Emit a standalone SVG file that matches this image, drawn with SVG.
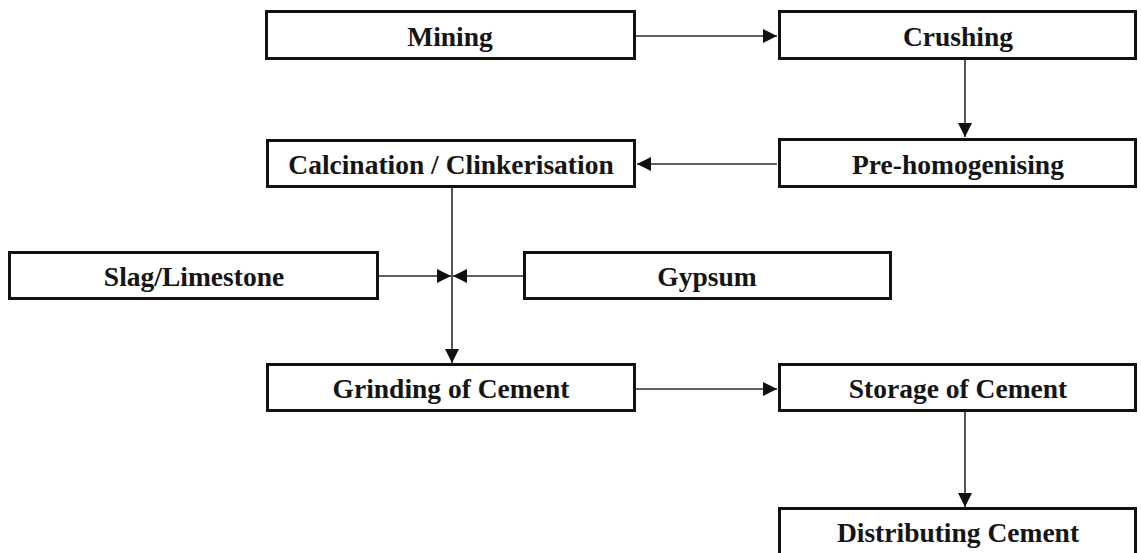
<svg xmlns="http://www.w3.org/2000/svg" width="1141" height="553" viewBox="0 0 1141 553">
<style>
.box{fill:#fff;stroke:#111;stroke-width:3}
.lbl{font-family:"Liberation Serif","Times New Roman",serif;font-weight:bold;font-size:27.5px;fill:#151515;text-anchor:middle}
.con{stroke:#1f3038;stroke-width:1.6;fill:none}
</style>
<defs>
<marker id="ah" viewBox="0 0 14 14" refX="14" refY="7" markerWidth="14" markerHeight="14" markerUnits="userSpaceOnUse" orient="auto">
<path d="M0,0 L14,7 L0,14 Z" fill="#111"/>
</marker>
</defs>
<rect width="1141" height="553" fill="#fff"/>
<g id="connectors">
<line class="con" x1="636" y1="36" x2="777" y2="36" marker-end="url(#ah)"/>
<line class="con" x1="965" y1="60" x2="965" y2="137" marker-end="url(#ah)"/>
<line class="con" x1="777" y1="164" x2="637" y2="164" marker-end="url(#ah)"/>
<line class="con" x1="452" y1="187" x2="452" y2="363" marker-end="url(#ah)"/>
<line class="con" x1="379" y1="276" x2="451" y2="276" marker-end="url(#ah)"/>
<line class="con" x1="523" y1="276" x2="453" y2="276" marker-end="url(#ah)"/>
<line class="con" x1="635" y1="389" x2="777" y2="389" marker-end="url(#ah)"/>
<line class="con" x1="965" y1="412" x2="965" y2="507" marker-end="url(#ah)"/>
</g>
<g id="mining"><rect class="box" x="266.5" y="11.5" width="368" height="47"/><text class="lbl" x="450" y="46">Mining</text></g>
<g id="crushing"><rect class="box" x="779.5" y="11.5" width="356" height="47"/><text class="lbl" x="958" y="46">Crushing</text></g>
<g id="prehomogenising"><rect class="box" x="779.5" y="139.5" width="356" height="47"/><text class="lbl" x="958" y="174">Pre-homogenising</text></g>
<g id="calcination"><rect class="box" x="267.5" y="140.5" width="367" height="46"/><text class="lbl" x="451" y="174">Calcination / Clinkerisation</text></g>
<g id="slag"><rect class="box" x="9.5" y="252.5" width="368" height="46"/><text class="lbl" x="194" y="286">Slag/Limestone</text></g>
<g id="gypsum"><rect class="box" x="524.5" y="252.5" width="366" height="46"/><text class="lbl" x="707" y="286">Gypsum</text></g>
<g id="grinding"><rect class="box" x="267.5" y="364.5" width="367" height="46"/><text class="lbl" x="451" y="398">Grinding of Cement</text></g>
<g id="storage"><rect class="box" x="779.5" y="364.5" width="356" height="46"/><text class="lbl" x="958" y="398">Storage of Cement</text></g>
<g id="distributing"><rect class="box" x="779.5" y="508.5" width="356" height="47"/><text class="lbl" x="958" y="542">Distributing Cement</text></g>
</svg>
